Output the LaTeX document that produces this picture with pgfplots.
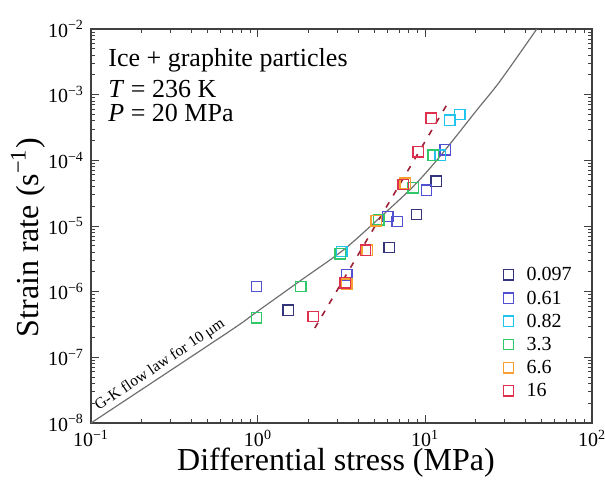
\documentclass[border=0pt]{standalone}
\usepackage{fontspec}
\setmainfont{Liberation Serif}
\usepackage{pgfplots}
\usepackage{pgfplotstable}
\pgfplotsset{compat=1.18}
\usetikzlibrary{calc}

\definecolor{cA}{HTML}{34347A}
\definecolor{cB}{HTML}{5050D0}
\definecolor{cC}{HTML}{22C4EE}
\definecolor{cD}{HTML}{30C868}
\definecolor{cE}{HTML}{F8A030}
\definecolor{cF}{HTML}{E03050}
\definecolor{gkgray}{HTML}{707070}
\definecolor{axgray}{HTML}{404040}

% stress (MPa), strain rate (1/s)
\pgfplotstableread{
s e
1.52 5.2e-7
6.1  4.7e-6
8.9  1.5e-5
11.7 4.8e-5
}\tA
\pgfplotstableread{
s e
0.98 1.2e-6
3.4  1.8e-6
6.0  1.4e-5
6.8  1.17e-5
10.2 3.5e-5
13.2 1.44e-4
}\tB
\pgfplotstableread{
s e
3.17 4.1e-6
12.3 1.2e-4
14.1 4.1e-4
16.2 5.0e-4
}\tC
\pgfplotstableread{
s e
0.98 4.0e-7
1.8  1.2e-6
3.1  3.8e-6
5.3  1.25e-5
8.5  3.8e-5
11.2 1.2e-4
}\tD
\pgfplotstableread{
s e
3.4  1.3e-6
4.5  4.3e-6
5.1  1.2e-5
7.6  4.5e-5
}\tE
\pgfplotstableread{
s e
2.14 4.2e-7
3.32 1.36e-6
4.4  4.3e-6
7.4  4.3e-5
9.1  1.35e-4
10.9 4.4e-4
}\tF

\pgfplotsset{
  grp/.style={only marks, mark=square, mark size=2.6pt, line width=0.7pt,
    draw=#1, mark options={draw=#1, fill=none, solid}},
}

\begin{document}
\begin{tikzpicture}
\begin{axis}[
  scale only axis,
  width=250.5pt, height=197pt,
  xmode=log, ymode=log,
  xmin=0.1, xmax=100, ymin=1e-8, ymax=1e-2,
  xtick={0.1,1,10,100},
  xticklabels={10\textsuperscript{−1},10\textsuperscript{0},10\textsuperscript{1},10\textsuperscript{2}},
  ytick={1e-8,1e-7,1e-6,1e-5,1e-4,1e-3,1e-2},
  yticklabels={10\textsuperscript{−8},10\textsuperscript{−7},10\textsuperscript{−6},10\textsuperscript{−5},10\textsuperscript{−4},10\textsuperscript{−3},10\textsuperscript{−2}},
  minor xtick={0.2,0.3,0.4,0.5,0.6,0.7,0.8,0.9,2,3,4,5,6,7,8,9,20,30,40,50,60,70,80,90},
  minor ytick={2e-8,3e-8,4e-8,5e-8,6e-8,7e-8,8e-8,9e-8,
               2e-7,3e-7,4e-7,5e-7,6e-7,7e-7,8e-7,9e-7,
               2e-6,3e-6,4e-6,5e-6,6e-6,7e-6,8e-6,9e-6,
               2e-5,3e-5,4e-5,5e-5,6e-5,7e-5,8e-5,9e-5,
               2e-4,3e-4,4e-4,5e-4,6e-4,7e-4,8e-4,9e-4,
               2e-3,3e-3,4e-3,5e-3,6e-3,7e-3,8e-3,9e-3},
  tick align=inside,
  major tick length=4pt, minor tick length=2pt,
  tick style={axgray, line width=0.5pt},
  axis line style={axgray, line width=0.7pt},
  tick label style={font=\fontsize{10}{12}\selectfont},
  xlabel={Differential stress (MPa)},
  ylabel={Strain rate (s\textsuperscript{−1})},
  label style={font=\fontsize{16}{18}\selectfont},
  xlabel style={at={(axis description cs:0.489,-0.1015)}, anchor=center},
  ylabel style={at={(axis description cs:-0.126,0.47)}, anchor=center},
  legend style={at={(axis description cs:0.81,0.41)}, anchor=north west,
    draw=none, fill=none, font=\fontsize{10}{11}\selectfont,
    row sep=2.6pt,
    nodes={inner sep=0.5pt, text height=7pt, text depth=1pt},
    /tikz/every odd column/.append style={column sep=6pt}},
  legend cell align=left,
]
\coordinate (sw) at (rel axis cs:0,0);

\addplot[grp=cA] table {\tA};
\addplot[grp=cB] table {\tB};
\addplot[grp=cC] table {\tC};
\addplot[grp=cD] table {\tD};
\addplot[grp=cE] table {\tE};
\addplot[grp=cF] table {\tF};
\legend{0.097,0.61,0.82,3.3,6.6,16}

% Goldsby-Kohlstedt flow law, 10 um (read from the figure)
\addplot[forget plot, no marks, smooth, draw=gkgray, line width=0.6pt] coordinates {
  (0.1,1.0e-8) (0.66,2.4e-7) (0.98,4.9e-7) (1.78,1.45e-6) (3.24,4.3e-6)
  (5.38,1.35e-5) (8.5,4.0e-5) (12.3,1.15e-4) (20.4,5.8e-4) (28.1,1.6e-3)
  (46.7,1.0e-2)
};
% power-law fit for the 16 vol.% sample
\addplot[forget plot, no marks, draw=cF!70!black,
  line width=0.8pt, dash pattern=on 3pt off 4pt] coordinates {
  (2.19,2.8e-7) (13.5,7.0e-4)
};

\node[anchor=base west, inner sep=0pt, font=\fontsize{13}{15}\selectfont]
  at (axis description cs:0.034,0.9036) {Ice + graphite particles};
\node[anchor=base west, inner sep=0pt, font=\fontsize{13}{15}\selectfont]
  at (axis description cs:0.034,0.827) {\textit{T} = 236 K};
\node[anchor=base west, inner sep=0pt, font=\fontsize{13}{15}\selectfont]
  at (axis description cs:0.034,0.764) {\textit{P} = 20 MPa};
\node[rotate=34, anchor=south, inner sep=1.2pt, font=\fontsize{7.8}{9}\selectfont]
  at (axis cs:0.28,5.7e-8) {G-K flow law for 10 μm};
\node[font=\fontsize{13}{15}\selectfont]
  at (axis description cs:-0.134,0.995) {(a)};
\end{axis}
\pgfresetboundingbox
\useasboundingbox ($(sw)+(-45.5pt,-32pt)$) rectangle ($(sw)+(257pt,211.5pt)$);
\end{tikzpicture}
\end{document}
